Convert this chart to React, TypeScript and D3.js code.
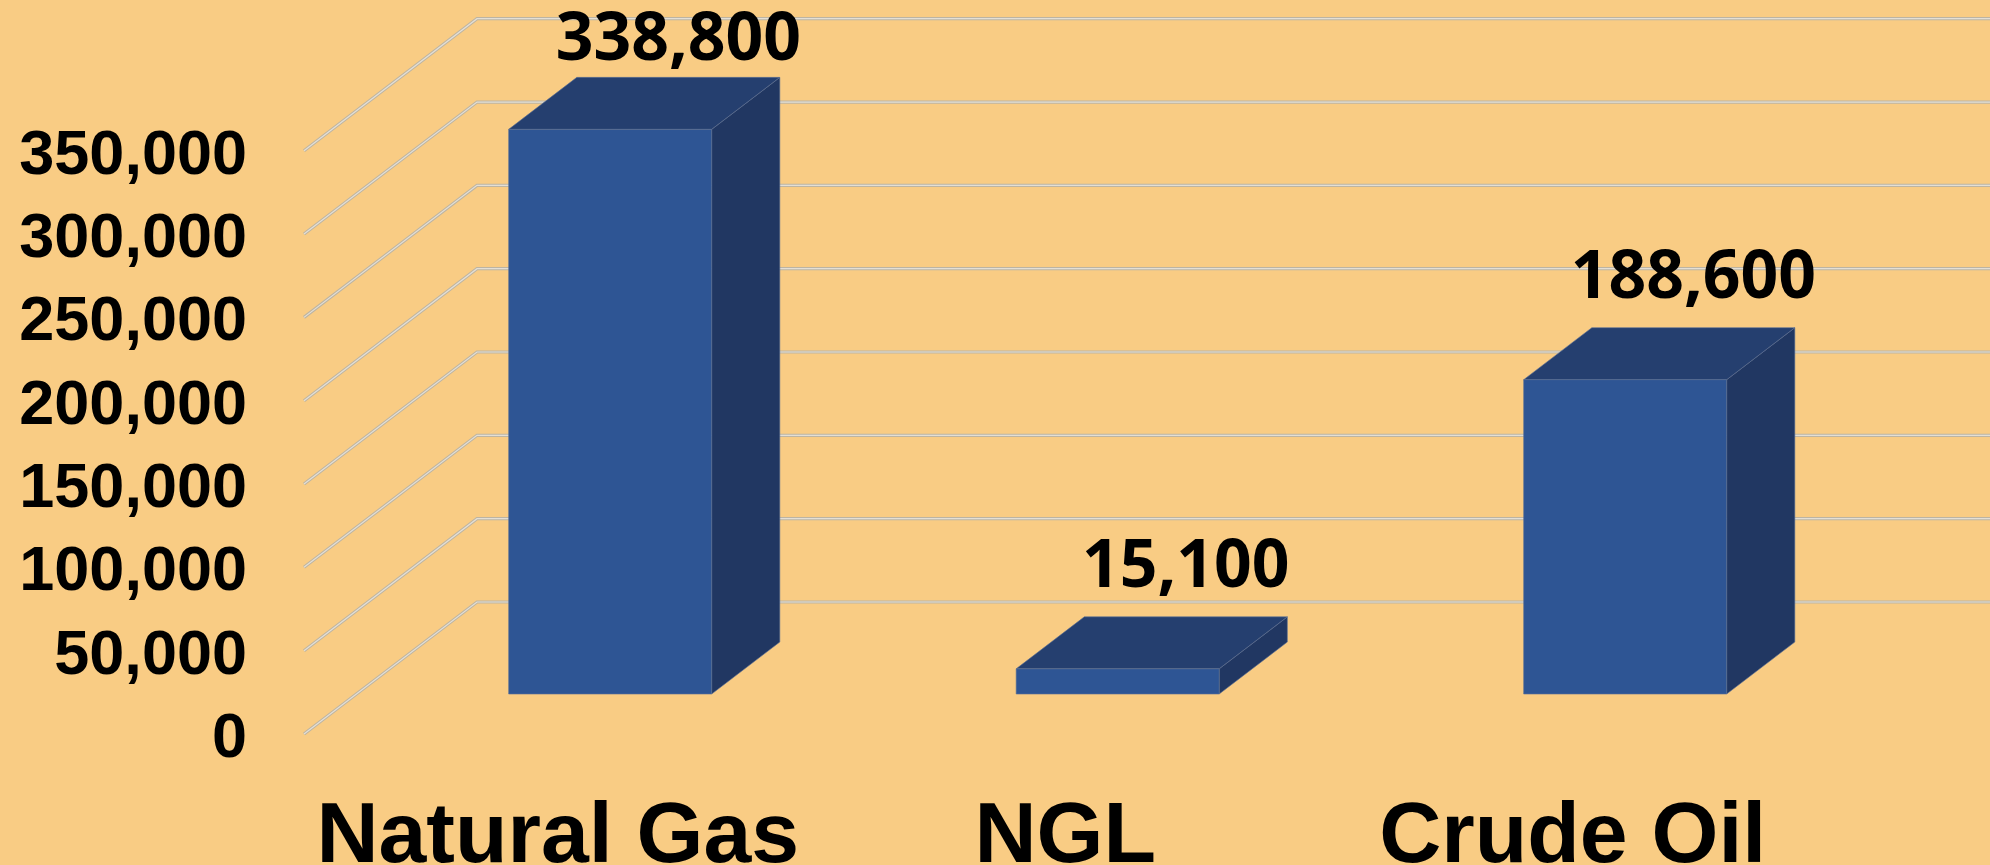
import React from "react";
import * as d3 from "d3";

const categories = ["Natural Gas", "NGL", "Crude Oil"];
const values = [338800, 15100, 188600];
const dataLabels = ["338,800", "15,100", "188,600"];
const yTicks = [0, 50000, 100000, 150000, 200000, 250000, 300000, 350000];

const W = 1990;
const H = 865;
const DX = 173; // full floor depth offset x
const DY = -132; // full floor depth offset y
const Z0 = 0.303; // bar front depth
const Z1 = 0.697; // bar back depth

export default function App() {
  const x = d3
    .scaleBand<string>()
    .domain(categories)
    .range([304, 304 + 1522.5])
    .paddingInner(0.6)
    .paddingOuter(0.3);
  const y = d3.scaleLinear().domain([0, 350000]).range([734, 150.7]);
  const fmt = d3.format(",");

  const px = (sx: number, z: number) => sx + z * DX;
  const py = (sy: number, z: number) => sy + z * DY;
  const pts = (arr: [number, number][]) => arr.map((p) => p.join(",")).join(" ");

  const backRight = W + 20;

  return (
    <svg
      width={W}
      height={H}
      style={{ position: "absolute", left: 0, top: 0, display: "block" }}
    >
      <rect x={0} y={0} width={W} height={H} fill="#F9CC84" />
      {/* gridlines */}
      {yTicks.map((t) => {
        const y0 = y(t);
        const x0 = 304;
        const xb = px(x0, 1);
        const yb = py(y0, 1);
        const d = `M${x0},${y0}L${xb},${yb}L${backRight},${yb}`;
        return (
          <g key={t} fill="none">
            <path d={d} stroke="#bdb4a2" strokeWidth={3.2} />
            <path d={d} stroke="#e4dfd5" strokeWidth={1.2} />
          </g>
        );
      })}
      {/* bars */}
      {categories.map((c, i) => {
        const bx = x(c)!;
        const bw = x.bandwidth();
        const yt = y(values[i]);
        const yb0 = y(0);
        const fl = px(bx, Z0), fr = px(bx + bw, Z0);
        const bl = px(bx, Z1), br = px(bx + bw, Z1);
        const ftop = py(yt, Z0), fbot = py(yb0, Z0);
        const btop = py(yt, Z1), bbot = py(yb0, Z1);
        const edge = "#5b6f96";
        return (
          <g key={c} strokeWidth={1} strokeLinejoin="round">
            <polygon
              points={pts([[fr, ftop], [br, btop], [br, bbot], [fr, fbot]])}
              fill="#213762"
              stroke={edge}
              strokeOpacity={0.6}
            />
            <polygon
              points={pts([[fl, ftop], [bl, btop], [br, btop], [fr, ftop]])}
              fill="#253F6F"
              stroke={edge}
              strokeOpacity={0.6}
            />
            <rect
              x={fl}
              y={ftop}
              width={fr - fl}
              height={fbot - ftop}
              fill="#2E5594"
              stroke={edge}
              strokeOpacity={0.6}
            />
          </g>
        );
      })}
      {/* data labels */}
      {categories.map((c, i) => {
        const cx = px(x(c)! + x.bandwidth() / 2, Z1);
        const btop = py(y(values[i]), Z1);
        const base = Math.max(60, btop - 30);
        return (
          <text
            key={c}
            x={cx}
            y={base}
            textAnchor="middle"
            fontFamily="'Open Sans', sans-serif"
            fontWeight={700}
            fontSize={66}
            fill="#000"
          >
            {dataLabels[i]}
          </text>
        );
      })}
      {/* y tick labels */}
      {yTicks.map((t) => (
        <text
          key={t}
          x={247}
          y={y(t) + 23}
          textAnchor="end"
          fontFamily="'Liberation Sans', Arial, sans-serif"
          fontWeight={700}
          fontSize={63}
          fill="#000"
        >
          {fmt(t)}
        </text>
      ))}
      {/* category labels */}
      {categories.map((c) => (
        <text
          key={c}
          x={x(c)! + x.bandwidth() / 2}
          y={862}
          textAnchor="middle"
          fontFamily="'Liberation Sans', Arial, sans-serif"
          fontWeight={700}
          fontSize={86}
          fill="#000"
        >
          {c}
        </text>
      ))}
    </svg>
  );
}
